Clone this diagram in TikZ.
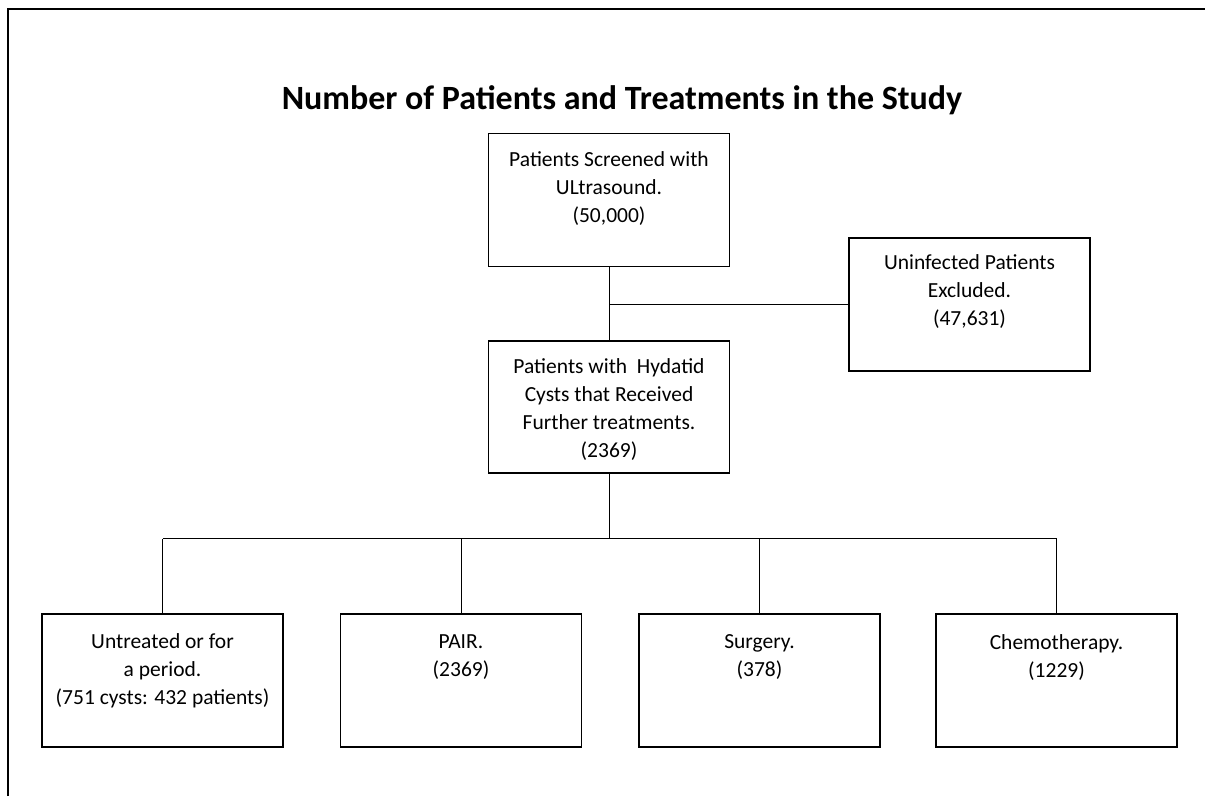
\documentclass[tikz,border=0pt]{standalone}
\usepackage{fontspec}
\setmainfont{Carlito}
\usetikzlibrary{positioning}

\begin{document}
\begin{tikzpicture}[x=1pt, y=-1pt,
            box/.style={draw, line width=1.1pt, minimum width=241pt, minimum height=133pt, inner sep=0pt},
            boxtext/.style={align=center, inner sep=0pt, font=\fontsize{21.5}{28}\selectfont},
            link/.style={line width=0.9pt}]
            \useasboundingbox (0,0) rectangle (1205,796);
            \draw[line width=1.6pt] (8,796) -- (8,9) -- (1205,9);

            \node[anchor=base, font=\bfseries\fontsize{34}{38}\selectfont] (title) at (622,109) {Number of Patients and Treatments in the Study};

            % boxes
            \node[box] (screened) at (609,200) {};
            \node[box] (excluded) at (969.5,304.5) {};
            \node[box, minimum height=132pt] (further) at (609,407) {};
            \node[box] (untreated) at (162.5,680.5) {};
            \node[box] (pair) at (461,680.5) {};
            \node[box] (surgery) at (759.5,680.5) {};
            \node[box] (chemo) at (1056.5,680.5) {};

            % texts
            \node[boxtext, below=18pt of screened.north] (screened-txt) {Patients Screened with\\ULtrasound.\\(50,000)};
            \node[boxtext, below=17pt of excluded.north] (excluded-txt) {Uninfected Patients\\Excluded.\\(47,631)};
            \node[boxtext, below=18pt of further.north] (further-txt) {Patients with\ \ Hydatid\\Cysts that Received\\Further treatments.\\(2369)};
            \node[boxtext, below=20pt of untreated.north] (untreated-txt) {Untreated or for\\a period.\\(751 cysts: 432 patients)};
            \node[boxtext, below=21pt of pair.north] (pair-txt) {PAIR.\\(2369)};
            \node[boxtext, below=21pt of surgery.north] (surgery-txt) {Surgery.\\(378)};
            \node[boxtext, below=21pt of chemo.north] (chemo-txt) {Chemotherapy.\\(1229)};

            % connectors
            \draw[link] (screened.south) -- (further.north);
            \draw[link] (screened.south |- excluded.west) -- (excluded.west);
            \draw[link] (further.south) -- ++(0,65) coordinate (bus);
            \draw[link] (untreated.north |- bus) -- (chemo.north |- bus);
            \foreach \n in {untreated,pair,surgery,chemo}
                \draw[link] (\n.north) -- (\n.north |- bus);
        \end{tikzpicture}
\end{document}
